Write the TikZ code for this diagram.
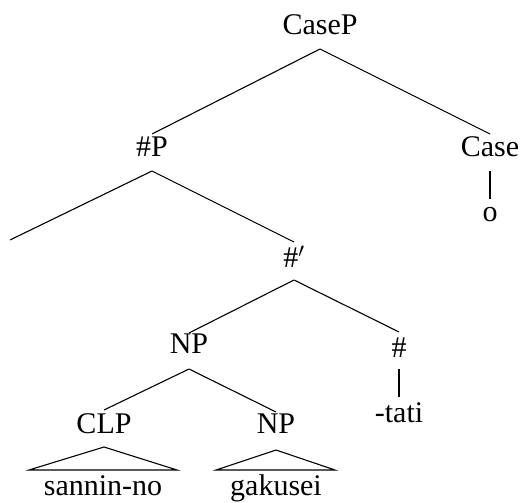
\documentclass[tikz,border=0pt]{standalone}
\usepackage{fontspec}
\setmainfont{Liberation Serif}
\begin{document}
\begin{tikzpicture}[x=1pt,y=-1pt,
  lab/.style={font=\fontsize{30}{34}\selectfont, inner sep=0pt, anchor=base},
  branch/.style={line width=1.1pt, line join=miter}]
\useasboundingbox (0,0) rectangle (526,502);
% category labels, placed by their baselines
\node[lab] (CaseP)  at (320,35)  {CaseP};
\node[lab] (hashP)  at (152,157) {$\#$P};
\node[lab] (Case)   at (490,157) {Case};
\node[lab] (o)      at (490,222) {o};
\coordinate (spec)  at (10,240);
\node[lab] (hashb)  at (294,267) {$\#'$};
\node[lab] (NP)     at (189,353) {NP};
\node[lab] (hash)   at (399,357) {$\#$};
\node[lab] (tati)   at (399,422) {-tati};
\node[lab] (CLP)    at (104,433) {CLP};
\node[lab] (NPb)    at (276,433) {NP};
\node[lab] (sannin) at (103,495) {sannin-no};
\node[lab] (gakusei)at (276,495) {gakusei};
% branches
\draw[branch] ([yshift=-14pt]CaseP.base) -- ([yshift=23pt]hashP.base);
\draw[branch] ([yshift=-14pt]CaseP.base) -- ([yshift=23pt]Case.base);
\draw[branch] ([yshift=-14pt]Case.base) -- ([yshift=23pt]o.base);
\draw[branch] ([yshift=-14pt]hashP.base) -- (spec);
\draw[branch] ([yshift=-14pt]hashP.base) -- ([yshift=25pt]hashb.base);
\draw[branch] ([yshift=-13pt]hashb.base) -- ([yshift=20pt]NP.base);
\draw[branch] ([yshift=-13pt]hashb.base) -- ([yshift=25pt]hash.base);
\draw[branch] ([yshift=-12pt]hash.base) -- ([yshift=25pt]tati.base);
\draw[branch] ([yshift=-16pt]NP.base) -- ([yshift=23pt]CLP.base);
\draw[branch] ([yshift=-16pt]NP.base) -- ([yshift=21pt]NPb.base);
% triangles over unanalysed constituents
\draw[branch] ([yshift=-14pt]CLP.base) -- ([xshift=-74pt,yshift=25pt]sannin.base)
  -- ([xshift=74pt,yshift=25pt]sannin.base) -- cycle;
\draw[branch] ([yshift=-17pt]NPb.base) -- ([xshift=-60pt,yshift=25pt]gakusei.base)
  -- ([xshift=59pt,yshift=25pt]gakusei.base) -- cycle;
\end{tikzpicture}
\end{document}
